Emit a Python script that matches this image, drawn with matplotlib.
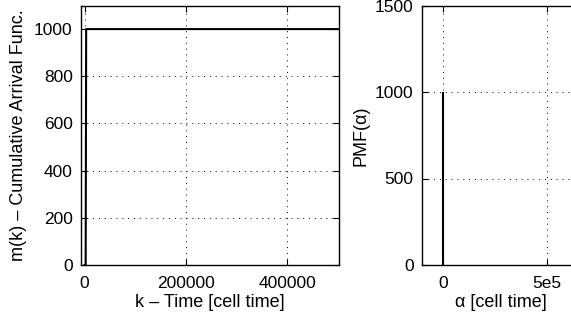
import numpy as np
import matplotlib
matplotlib.use('Agg')
import matplotlib.pyplot as plt

plt.rcParams['font.family'] = ['Liberation Sans', 'DejaVu Sans']
plt.rcParams['font.size'] = 13

# cumulative arrivals m(k)
k_time = [0, 2000, 3000, 500000]
m_arrivals = [0, 0, 1000, 1000]

# PMF of the inter-arrival alpha
alpha_vals = [0]
pmf_vals = [1000]

left_xticks = [0, 200000, 400000]
left_yticks = [0, 200, 400, 600, 800, 1000]
right_xticks = [0, 5e5]
right_xticklabels = ['0', '5e5']
right_yticks = [0, 500, 1000, 1500]

W, H = 571, 321
fig = plt.figure(figsize=(W / 100, H / 100), dpi=100)


def style(ax):
    ax.tick_params(direction='in', top=True, right=True, length=4, width=0.8,
                   labelsize=12.5)
    ax.tick_params(axis='x', pad=8)
    ax.tick_params(axis='y', pad=6)
    for s in ax.spines.values():
        s.set_linewidth(1.0)
    ax.grid(True, color='black', linestyle=(0, (1, 5)), linewidth=0.7)


ax1 = fig.add_axes([81 / W, 1 - 265 / H, (339 - 81) / W, (265 - 5.5) / H])
ax1.plot(k_time, m_arrivals, color='black', linewidth=1.5)
ax1.set_xlim(-7200, 502000)
ax1.set_ylim(0, 1100)
ax1.set_xticks(left_xticks)
ax1.set_yticks(left_yticks)
ax1.set_xlabel('k – Time [cell time]', labelpad=2)
ax1.set_ylabel('m(k) – Cumulative Arrival Func.', labelpad=5)
style(ax1)

ax2 = fig.add_axes([422 / W, 1 - 265 / H, (580 - 422) / W, (265 - 5.5) / H])
ax2.vlines(alpha_vals, 0, pmf_vals, color='black', linewidth=1.5)
ax2.set_xlim(-1.03e5, 6.6e5)
ax2.set_ylim(0, 1500)
ax2.set_xticks(right_xticks)
ax2.set_xticklabels(right_xticklabels)
ax2.set_yticks(right_yticks)
ax2.set_xlabel('α [cell time]', labelpad=2)
ax2.set_ylabel('PMF(α)', labelpad=4)
style(ax2)

fig.savefig('out.png', dpi=100)
